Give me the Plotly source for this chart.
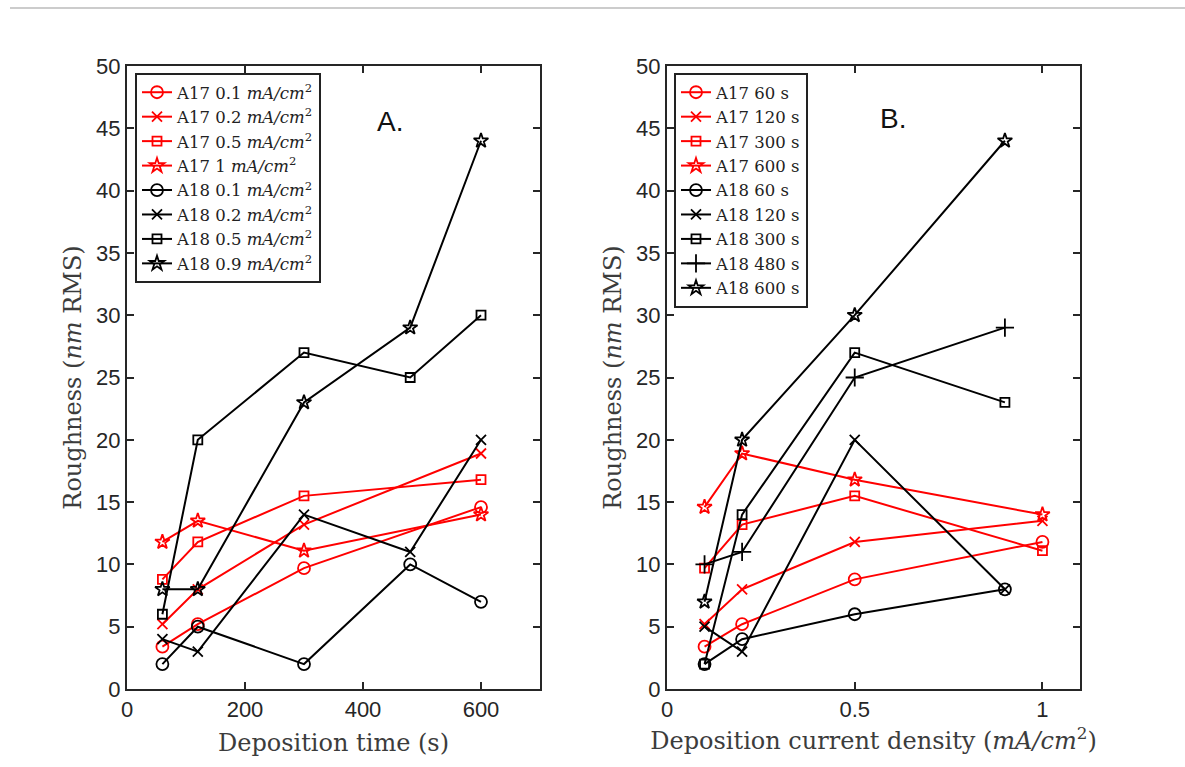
import plotly.graph_objects as go

# ---------------- data ----------------
time_s = [60, 120, 300, 480, 600]
time_a17 = [60, 120, 300, 600]
dens_a17 = [0.1, 0.2, 0.5, 1.0]
dens_a18 = [0.1, 0.2, 0.5, 0.9]

# Panel A: roughness vs deposition time, one series per current density
a17_01 = [3.4, 5.2, 9.7, 14.6]
a17_02 = [5.2, 8.0, 13.2, 18.9]
a17_05 = [8.8, 11.8, 15.5, 16.8]
a17_1 = [11.8, 13.5, 11.1, 14.0]
a18_01 = [2, 5, 2, 10, 7]
a18_02 = [4, 3, 14, 11, 20]
a18_05 = [6, 20, 27, 25, 30]
a18_09 = [8, 8, 23, 29, 44]

# Panel B: roughness vs current density, one series per deposition time
a17_60 = [3.4, 5.2, 8.8, 11.8]
a17_120 = [5.2, 8.0, 11.8, 13.5]
a17_300 = [9.7, 13.2, 15.5, 11.1]
a17_600 = [14.6, 18.9, 16.8, 14.0]
a18_60 = [2, 4, 6, 8]
a18_120 = [5, 3, 20, 8]
a18_300 = [2, 14, 27, 23]
a18_480 = [10, 11, 25, 29]
a18_600 = [7, 20, 30, 44]

unit = " <i>mA/cm</i><sup>2</sup>"
panel_a = [
    ("A17 0.1" + unit, time_a17, a17_01, "red", "circle-open"),
    ("A17 0.2" + unit, time_a17, a17_02, "red", "x-thin-open"),
    ("A17 0.5" + unit, time_a17, a17_05, "red", "square-open"),
    ("A17 1" + unit, time_a17, a17_1, "red", "star-open"),
    ("A18 0.1" + unit, time_s, a18_01, "black", "circle-open"),
    ("A18 0.2" + unit, time_s, a18_02, "black", "x-thin-open"),
    ("A18 0.5" + unit, time_s, a18_05, "black", "square-open"),
    ("A18 0.9" + unit, time_s, a18_09, "black", "star-open"),
]
panel_b = [
    ("A17 60 s", dens_a17, a17_60, "red", "circle-open"),
    ("A17 120 s", dens_a17, a17_120, "red", "x-thin-open"),
    ("A17 300 s", dens_a17, a17_300, "red", "square-open"),
    ("A17 600 s", dens_a17, a17_600, "red", "star-open"),
    ("A18 60 s", dens_a18, a18_60, "black", "circle-open"),
    ("A18 120 s", dens_a18, a18_120, "black", "x-thin-open"),
    ("A18 300 s", dens_a18, a18_300, "black", "square-open"),
    ("A18 480 s", dens_a18, a18_480, "black", "cross-thin-open"),
    ("A18 600 s", dens_a18, a18_600, "black", "star-open"),
]

RED = "#ff0000"
SIZES = {"circle-open": 12, "x-thin-open": 10, "square-open": 9,
         "star-open": 11, "cross-thin-open": 13}

fig = go.Figure()

def add(series, xaxis, yaxis, legend):
    for name, xs, ys, col, sym in series:
        c = RED if col == "red" else "#000000"
        fig.add_trace(go.Scatter(
            x=xs, y=ys, name=name, mode="lines+markers",
            xaxis=xaxis, yaxis=yaxis, legend=legend,
            line=dict(color=c, width=2),
            marker=dict(symbol=sym, size=SIZES[sym], color=c, line=dict(color=c, width=1.8)),
        ))

add(panel_a, "x", "y", "legend")
add(panel_b, "x2", "y2", "legend2")

W, H = 1185, 767
L, R, T, B = 127, 105, 66, 78
PW, PH = W - L - R, H - T - B

def px(x):
    return (x - L) / PW

def py(y):
    return (H - B - y) / PH

axcol = "#262626"
tickfont = dict(family="Liberation Sans, Arial, sans-serif", size=22, color=axcol)
titlefont = dict(family="DejaVu Serif, serif", size=24, color="#3c3c3c")

common_y = dict(range=[0, 50], dtick=5, tick0=0, ticks="inside", ticklen=7, tickwidth=1.5,
                tickcolor=axcol, showline=True, linecolor=axcol, linewidth=2, mirror="ticks",
                showgrid=False, zeroline=False, tickfont=tickfont, domain=[0, 1],
                automargin=False)
common_x = dict(ticks="inside", ticklen=7, tickwidth=1.5, tickcolor=axcol, showline=True,
                linecolor=axcol, linewidth=2, mirror="ticks", showgrid=False, zeroline=False,
                tickfont=tickfont, automargin=False)

legfont = dict(family="DejaVu Serif, serif", size=16.5, color="#222222")
legcommon = dict(xanchor="left", yanchor="top", bgcolor="white", bordercolor="#222222",
                 borderwidth=2, font=legfont, tracegroupgap=0, itemwidth=30)

fig.update_layout(
    width=W, height=H,
    margin=dict(l=L, r=R, t=T, b=B, autoexpand=False),
    paper_bgcolor="white", plot_bgcolor="white",
    showlegend=True,
    xaxis=dict(common_x, domain=[0, px(540)], range=[0, 700],
               tickvals=[0, 200, 400, 600], anchor="y",
               title=dict(text="Deposition time (s)", font=titlefont, standoff=13)),
    yaxis=dict(common_y, anchor="x",
               title=dict(text="Roughness (<i>nm</i> RMS)", font=titlefont, standoff=8)),
    xaxis2=dict(common_x, domain=[px(667), 1], range=[0, 1.1],
                tickvals=[0, 0.5, 1], ticktext=["0", "0.5", "1"], anchor="y2",
                title=dict(text="Deposition current density (<i>mA/cm</i><sup>2</sup>)",
                           font=titlefont, standoff=11)),
    yaxis2=dict(common_y, anchor="x2",
                title=dict(text="Roughness (<i>nm</i> RMS)", font=titlefont, standoff=8)),
    legend=dict(legcommon, x=px(135), y=py(73)),
    legend2=dict(legcommon, x=px(674), y=py(73)),
    annotations=[
        dict(text="A.", x=px(390), y=py(121), xref="paper", yref="paper",
             xanchor="center", yanchor="middle", showarrow=False,
             font=dict(family="Liberation Sans, Arial, sans-serif", size=28, color="#111111")),
        dict(text="B.", x=px(893), y=py(118), xref="paper", yref="paper",
             xanchor="center", yanchor="middle", showarrow=False,
             font=dict(family="Liberation Sans, Arial, sans-serif", size=28, color="#111111")),
    ],
    shapes=[dict(type="line", xref="paper", yref="paper", x0=px(10), x1=px(W), y0=py(8), y1=py(8),
                 line=dict(color="#bbbbbb", width=1.5))],
)

fig.write_html("out.html")
